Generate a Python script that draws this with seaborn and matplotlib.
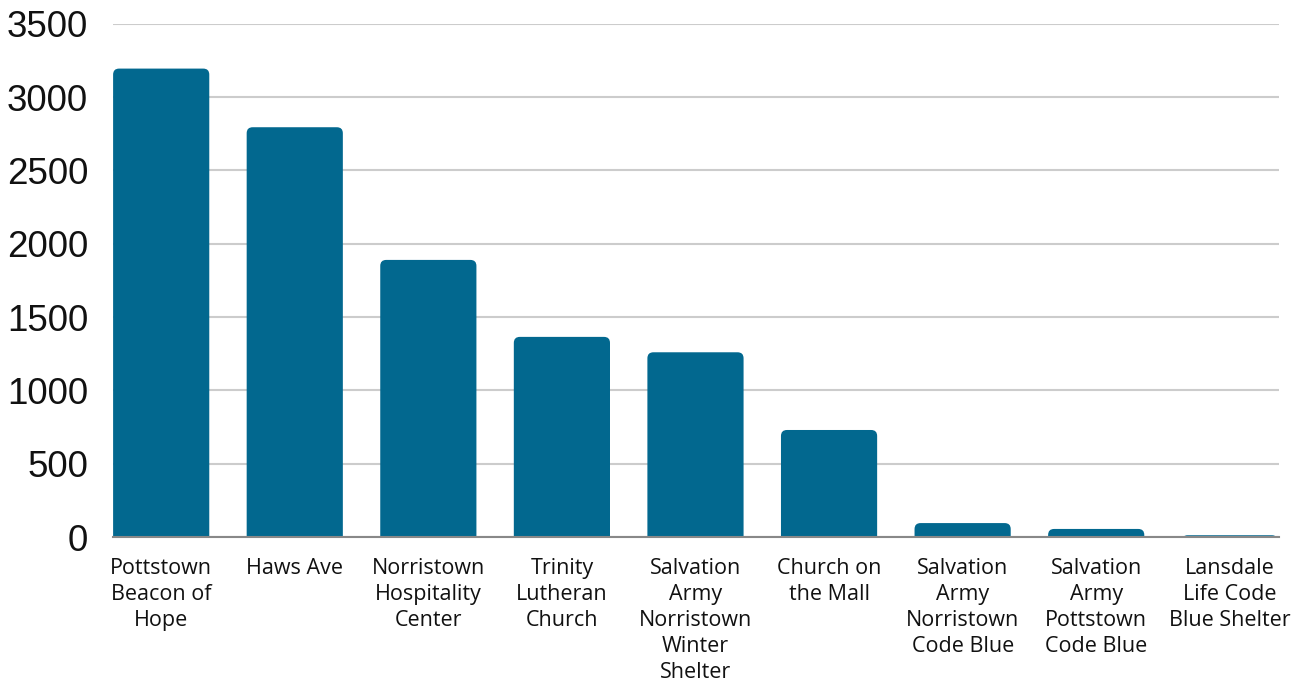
import matplotlib
matplotlib.use("Agg")
import matplotlib.pyplot as plt
import seaborn as sns
import pandas as pd
from matplotlib.patches import FancyBboxPatch

categories = ["Pottstown\nBeacon of\nHope", "Haws Ave", "Norristown\nHospitality\nCenter",
              "Trinity\nLutheran\nChurch", "Salvation\nArmy\nNorristown\nWinter\nShelter",
              "Church on\nthe Mall", "Salvation\nArmy\nNorristown\nCode Blue",
              "Salvation\nArmy\nPottstown\nCode Blue", "Lansdale\nLife Code\nBlue Shelter"]
values = [3195, 2795, 1890, 1365, 1260, 730, 95, 55, 12]
yticks = [0, 500, 1000, 1500, 2000, 2500, 3000, 3500]

sns.set_theme(style="white")
plt.rcParams['font.family'] = ['Liberation Sans', 'DejaVu Sans']

df = pd.DataFrame({"cat": categories, "val": values})
fig = plt.figure(figsize=(13, 6.82), dpi=100)
ax = fig.add_axes([0.087, 0.2126, 0.897, 0.7524])
color = "#02688f"
sns.barplot(data=df, x="cat", y="val", color=color, width=0.72, saturation=1, ax=ax, zorder=3)

ax.set_xlim(-0.36, 8.37)
ax.set_ylim(0, 3500)

# rounded tops
xpx = 0.897 * 1300 / (8.37 + 0.36)
ypx = 0.7524 * 682 / 3500
aspect = xpx / ypx
r = 6 / xpx
for p in list(ax.patches):
    x, w, h = p.get_x(), p.get_width(), p.get_height()
    p.remove()
    ext = r * aspect * 1.5
    fb = FancyBboxPatch((x, -ext), w, h + ext, boxstyle=f"round,pad=0,rounding_size={r}",
                        mutation_aspect=aspect, facecolor=color, edgecolor="none", zorder=3,
                        clip_on=True)
    ax.add_patch(fb)

ax.set_yticks(yticks)
ax.set_yticklabels([str(t) for t in yticks], fontsize=26.5, color="#111111")
ax.yaxis.grid(True, color="#cccccc", linewidth=1.5, zorder=0)
ax.set_axisbelow(True)
for s in ["top", "right", "left"]:
    ax.spines[s].set_visible(False)
ax.spines["bottom"].set_color("#888888")
ax.spines["bottom"].set_linewidth(1.5)
ax.spines["bottom"].set_zorder(4)
ax.tick_params(axis="y", length=0, pad=18)
ax.tick_params(axis="x", length=0, pad=15)
for lbl in ax.get_xticklabels():
    lbl.set_fontfamily(["Open Sans", "DejaVu Sans"])
    lbl.set_fontsize(15.5)
    lbl.set_color("#111111")
    lbl.set_va("top")
    lbl.set_linespacing(1.32)
ax.set_xlabel("")
ax.set_ylabel("")
fig.savefig("out.png", dpi=100)
